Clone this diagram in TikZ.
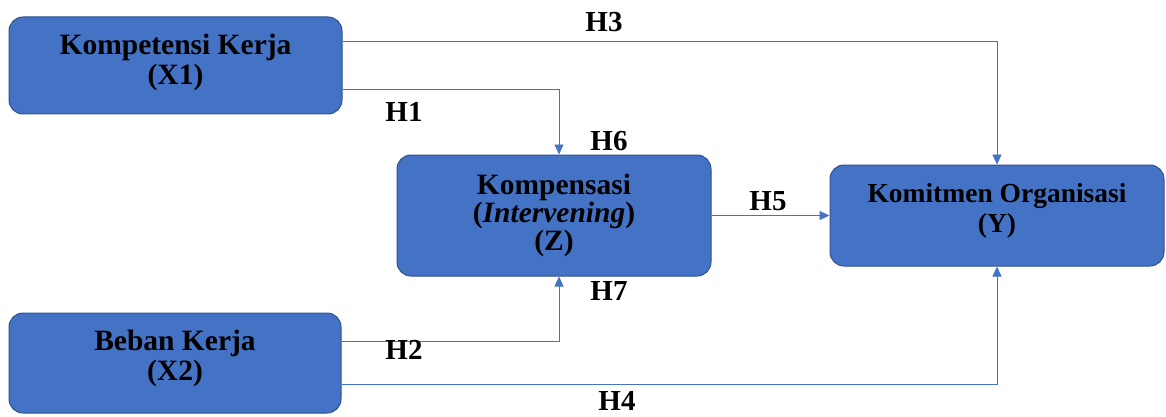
\documentclass[tikz,border=0pt]{standalone}
\usepackage{fontspec}
\setmainfont{Liberation Serif}
\usetikzlibrary{arrows.meta}
\definecolor{boxfill}{HTML}{4472C4}
\definecolor{boxdraw}{HTML}{2F528F}
\definecolor{linec}{HTML}{4472C4}
\begin{document}
\begin{tikzpicture}[x=1pt,y=-1pt,
  box/.style={draw=boxdraw,fill=boxfill,rounded corners=14pt,line width=1pt,inner sep=0pt},
  boxtext/.style={align=center,font=\fontsize{29.5}{30}\selectfont\bfseries,inner sep=0pt},
  conn/.style={draw=linec,line width=0.9pt,-{Triangle[length=10pt,width=9pt]}},
  lab/.style={font=\fontsize{29}{30}\selectfont\bfseries,inner sep=0pt}]
\useasboundingbox (0,0) rectangle (1166,417);
\node[box,minimum width=333pt,minimum height=97pt] (x1) at (175.5,65.5) {};
\node[box,minimum width=332pt,minimum height=100pt] (x2) at (175,363) {};
\node[box,minimum width=314pt,minimum height=121pt] (z) at (554,215.5) {};
\node[box,minimum width=334pt,minimum height=101pt] (y) at (997,215.5) {};
\node[boxtext] (tx1) at ([yshift=3pt]x1.center) {Kompetensi Kerja\\(X1)};
\node[boxtext] (tx2) at ([yshift=5pt]x2.center) {Beban Kerja\\(X2)};
\node[boxtext,font=\fontsize{29.5}{28}\selectfont\bfseries] (tz) at (z.center) {Kompensasi\\(\textit{Intervening})\\(Z)};
\node[boxtext,font=\fontsize{27.5}{30}\selectfont\bfseries] (ty) at ([yshift=5pt]y.center) {Komitmen Organisasi\\(Y)};
\coordinate (c3) at (997,41);
\coordinate (c1) at (559,89);
\coordinate (c2) at (559,341);
\coordinate (c4) at (997,384);
\draw[conn] (x1.east |- c3) -- (c3) -- (c3 |- y.north);
\draw[conn] (x1.east |- c1) -- (c1) -- (c1 |- z.north);
\draw[conn] (x2.east |- c2) -- (c2) -- (c2 |- z.south);
\draw[conn] (x2.east |- c4) -- (c4) -- (c4 |- y.south);
\draw[conn] (z.east) -- (y.west);
\node[lab] (h3) at (604,22) {H3};
\node[lab] (h1) at (404,112) {H1};
\node[lab] (h6) at (609,141) {H6};
\node[lab] (h5) at (768,201) {H5};
\node[lab] (h7) at (609,291) {H7};
\node[lab] (h2) at (404,350) {H2};
\node[lab] (h4) at (617,401) {H4};
\end{tikzpicture}
\end{document}
